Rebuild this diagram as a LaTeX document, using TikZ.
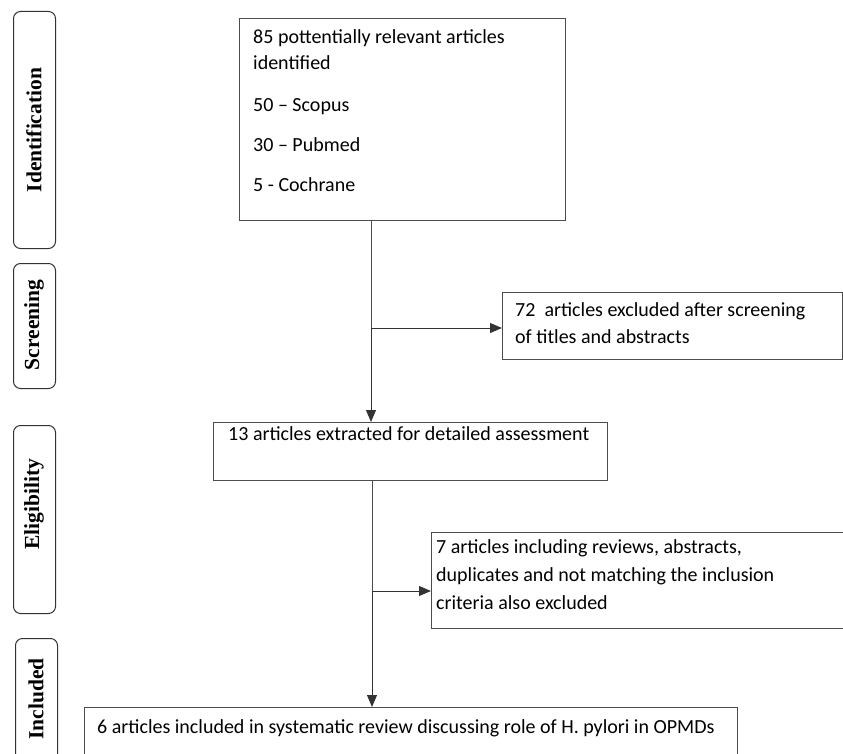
\documentclass[tikz,border=0pt]{standalone}
\usepackage{fontspec}
\setmainfont{Carlito}
\newfontfamily\stagefont{Liberation Serif}
\usetikzlibrary{arrows.meta}
\begin{document}
\begin{tikzpicture}[x=1pt,y=-1pt,
  stage/.style={draw=black!80, line width=1pt, rounded corners=7pt, anchor=north west, inner sep=0pt},
  flowbox/.style={draw=black!70, line width=1pt, anchor=north west, inner sep=0pt},
  stagetxt/.style={rotate=90, inner sep=0pt, font=\stagefont\bfseries\fontsize{21.5}{24}\selectfont},
  boxtxt/.style={anchor=base west, inner sep=0pt, font=\fontsize{20}{26}\selectfont},
  link/.style={draw=black!70, line width=1pt},
  arr/.style={-{Triangle[length=12pt,width=10pt]}, line width=1pt, draw=black!80, fill=black}
]
\useasboundingbox (0,0) rectangle (843,754);
\clip (0,0) rectangle (843,754);

% stage boxes
\node[stage, minimum width=42pt, minimum height=237pt] (s1) at (13,11) {};
\node[stage, minimum width=42pt, minimum height=125pt] (s2) at (13,263) {};
\node[stage, minimum width=42pt, minimum height=188pt] (s3) at (13,425) {};
\node[stage, minimum width=42pt, minimum height=130pt] (s4) at (15,638) {};
\node[stagetxt] (l1) at (34,130) {Identification};
\node[stagetxt] (l2) at (34,325) {Screening};
\node[stagetxt] (l3) at (34,504) {Eligibility};
\node[stagetxt] (l4) at (36,699) {Included};

% flow boxes
\node[flowbox, minimum width=326pt, minimum height=202pt] (b1) at (239,18) {};
\node[flowbox, minimum width=340pt, minimum height=67pt] (b72) at (502,292) {};
\node[flowbox, minimum width=394pt, minimum height=58pt] (b2) at (213,422) {};
\node[flowbox, minimum width=420pt, minimum height=96pt] (b3) at (431,532) {};
\node[flowbox, minimum width=653pt, minimum height=70pt] (b6) at (84,707) {};

% texts
\node[boxtxt] (t1) at (253,44) {\parbox[t]{300pt}{85 pottentially relevant articles\\identified\\[16pt]50 – Scopus\\[14pt]30 – Pubmed\\[14pt]5 - Cochrane}};
\node[boxtxt] (t72) at (515,316) {\parbox[t]{320pt}{\baselineskip=27pt 72\ \ articles excluded after screening\\of titles and abstracts}};
\node[boxtxt] (t2) at (228,440) {13 articles extracted for detailed assessment};
\node[boxtxt] (t3) at (436,553) {\parbox[t]{400pt}{\baselineskip=28pt 7 articles including reviews, abstracts,\\duplicates and not matching the inclusion\\criteria also excluded}};
\node[boxtxt] (t6) at (97,733) {6 articles included in systematic review discussing role of H. pylori in OPMDs};

% connectors
\coordinate (j1) at (371,328);
\coordinate (j2) at (372,591);
\draw[link] (b1.south -| j1) -- (j1);
\draw[arr] (j1) -- (j1 -| b72.west);
\draw[arr] (j1) -- (j1 |- b2.north);
\draw[link] (b2.south -| j2) -- (j2);
\draw[arr] (j2) -- (j2 -| b3.west);
\draw[arr] (j2) -- (j2 |- b6.north);
\end{tikzpicture}
\end{document}
